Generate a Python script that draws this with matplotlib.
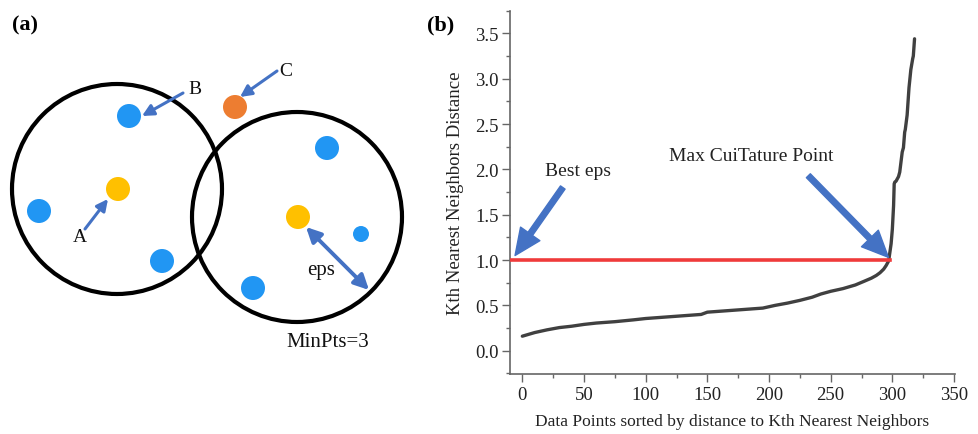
import matplotlib
matplotlib.use("Agg")
import matplotlib.pyplot as plt
from matplotlib.patches import Circle
from matplotlib.ticker import MultipleLocator

plt.rcParams['font.family'] = ['Liberation Serif', 'DejaVu Serif']

# ---------------- data: panel (a) diagram (pixel-space coordinates) -------------
circle_x = [117, 297]
circle_y = [190, 218]
circle_r = [105, 105]

point_x = [129, 235, 118, 39, 162, 327, 298, 361, 253]
point_y = [117, 108, 190, 212, 262, 149, 218, 235, 289]
point_kind = ['border', 'noise', 'core', 'border', 'border', 'border', 'core', 'border_small', 'border']

label_text = ['A', 'B', 'C', 'eps', 'MinPts=3']
label_x = [80, 195, 286, 321, 328]
label_y = [238, 89, 71, 271, 343]

# arrows: (tail x, tail y, head x, head y)
arrow_tail_x = [85, 183, 277]
arrow_tail_y = [230, 94, 72]
arrow_head_x = [108, 142, 240]
arrow_head_y = [200, 117, 98]
eps_arrow = [(306, 228), (369, 291)]

# ---------------- data: panel (b) k-distance curve ----------------
k_index = [0, 5, 10, 20, 30, 40, 50, 60, 75, 90, 100, 115, 130, 145, 150, 165, 180,
           195, 205, 215, 225, 235, 242, 250, 260, 270, 277, 283, 287, 290, 293, 295,
           297, 299, 300, 301, 301.5, 302, 303, 305, 306, 308, 309, 310, 310.5, 312,
           313.5, 315, 316.5, 317, 318]
k_dist = [0.16, 0.18, 0.20, 0.23, 0.255, 0.27, 0.29, 0.305, 0.32, 0.34, 0.355, 0.37,
          0.385, 0.40, 0.425, 0.44, 0.455, 0.47, 0.50, 0.525, 0.555, 0.59, 0.625, 0.655,
          0.685, 0.725, 0.765, 0.80, 0.83, 0.86, 0.90, 0.94, 0.99, 1.18, 1.34, 1.6, 1.84,
          1.86, 1.87, 1.92, 1.97, 2.19, 2.24, 2.41, 2.44, 2.6, 2.9, 3.1, 3.22, 3.25, 3.44]
best_eps = 1.0
knee_index = 298
xticks = [0, 50, 100, 150, 200, 250, 300, 350]
yticks = [0.0, 0.5, 1.0, 1.5, 2.0, 2.5, 3.0, 3.5]

kind_color = {'core': '#FFC000', 'border': '#2196F3', 'border_small': '#2196F3', 'noise': '#ED7D31'}
kind_radius = {'core': 12, 'border': 12, 'border_small': 8, 'noise': 12}
arrow_blue = '#4472C4'

fig = plt.figure(figsize=(9.79, 4.35), dpi=100)

# ---------------- panel (a) ----------------
axa = fig.add_axes([0, 0, 420 / 979, 1])
axa.set_xlim(0, 420)
axa.set_ylim(435, 0)
axa.axis('off')
for cx, cy, r in zip(circle_x, circle_y, circle_r):
    axa.add_patch(Circle((cx, cy), r, fill=False, ec='black', lw=3.0, zorder=2))
for px, py, k in zip(point_x, point_y, point_kind):
    axa.add_patch(Circle((px, py), kind_radius[k], fc=kind_color[k], ec='none', zorder=3))
for tx, ty, hx, hy in zip(arrow_tail_x, arrow_tail_y, arrow_head_x, arrow_head_y):
    axa.annotate('', xy=(hx, hy), xytext=(tx, ty),
                 arrowprops=dict(arrowstyle='-|>', color=arrow_blue, lw=2.2,
                                 mutation_scale=17, shrinkA=0, shrinkB=0), zorder=4)
axa.annotate('', xy=eps_arrow[1], xytext=eps_arrow[0],
             arrowprops=dict(arrowstyle='<|-|>', color=arrow_blue, lw=2.8,
                             mutation_scale=22, shrinkA=0, shrinkB=0), zorder=4)
for t, lx, ly in zip(label_text, label_x, label_y):
    fs = 15 if t in ('eps', 'MinPts=3') else 14
    axa.text(lx, ly, t, ha='center', va='center', fontsize=fs, color='#111111', zorder=5)
fig.text(12 / 979, 1 - 25 / 435, '(a)', fontsize=16, fontweight='bold', ha='left', va='center')

# ---------------- panel (b) ----------------
x0_px, x1_px = 510, 955
y0_px, y1_px = 375, 11.7
axb = fig.add_axes([x0_px / 979, 1 - y0_px / 435, (x1_px - x0_px) / 979, (y0_px - y1_px) / 435])
axb.plot(k_index, k_dist, color='#404040', lw=2.4, solid_capstyle='round', zorder=3)
axb.plot([-10, knee_index], [best_eps, best_eps], color='#EF3B3B', lw=2.6, zorder=4)
axb.set_xlim(-10, 350.8)
axb.set_ylim(-0.257, 3.75)
axb.set_xticks(xticks)
axb.set_yticks(yticks)
axb.set_yticklabels([f'{v:.1f}' for v in yticks])
axb.xaxis.set_minor_locator(MultipleLocator(25))
axb.yaxis.set_minor_locator(MultipleLocator(0.25))
for s in ('top', 'right'):
    axb.spines[s].set_visible(False)
for s in ('left', 'bottom'):
    axb.spines[s].set_color('#666666')
    axb.spines[s].set_linewidth(1.2)
axb.tick_params(which='major', direction='out', length=6, width=1.0, color='#666666',
                labelsize=13.5, pad=2, labelcolor='#222222')
axb.tick_params(which='minor', direction='out', length=3, width=1.0, color='#666666')
axb.tick_params(axis='x', which='major', pad=3)
axb.set_xlabel('Data Points sorted by distance to Kth Nearest Neighbors', fontsize=12.5,
               color='#222222', labelpad=7)
axb.set_ylabel('Kth Nearest Neighbors Distance', fontsize=13.5, color='#222222', labelpad=8)

arrow_kw = dict(facecolor=arrow_blue, edgecolor=arrow_blue, width=4.0, headwidth=17,
                headlength=19, shrink=0)
axb.annotate('', xy=(-5.9, 1.05), xytext=(32.8, 1.80), arrowprops=arrow_kw, zorder=5)
axb.annotate('', xy=(296.8, 1.03), xytext=(231.9, 1.93), arrowprops=arrow_kw, zorder=5)
axb.text(45.2, 1.985, 'Best eps', fontsize=14, ha='center', va='center', color='#222222')
axb.text(185.4, 2.158, 'Max CuiTature Point', fontsize=14, ha='center', va='center',
         color='#222222')
fig.text(427 / 979, 1 - 25 / 435, '(b)', fontsize=16, fontweight='bold', ha='left', va='center')

fig.savefig('out.png', dpi=100)
